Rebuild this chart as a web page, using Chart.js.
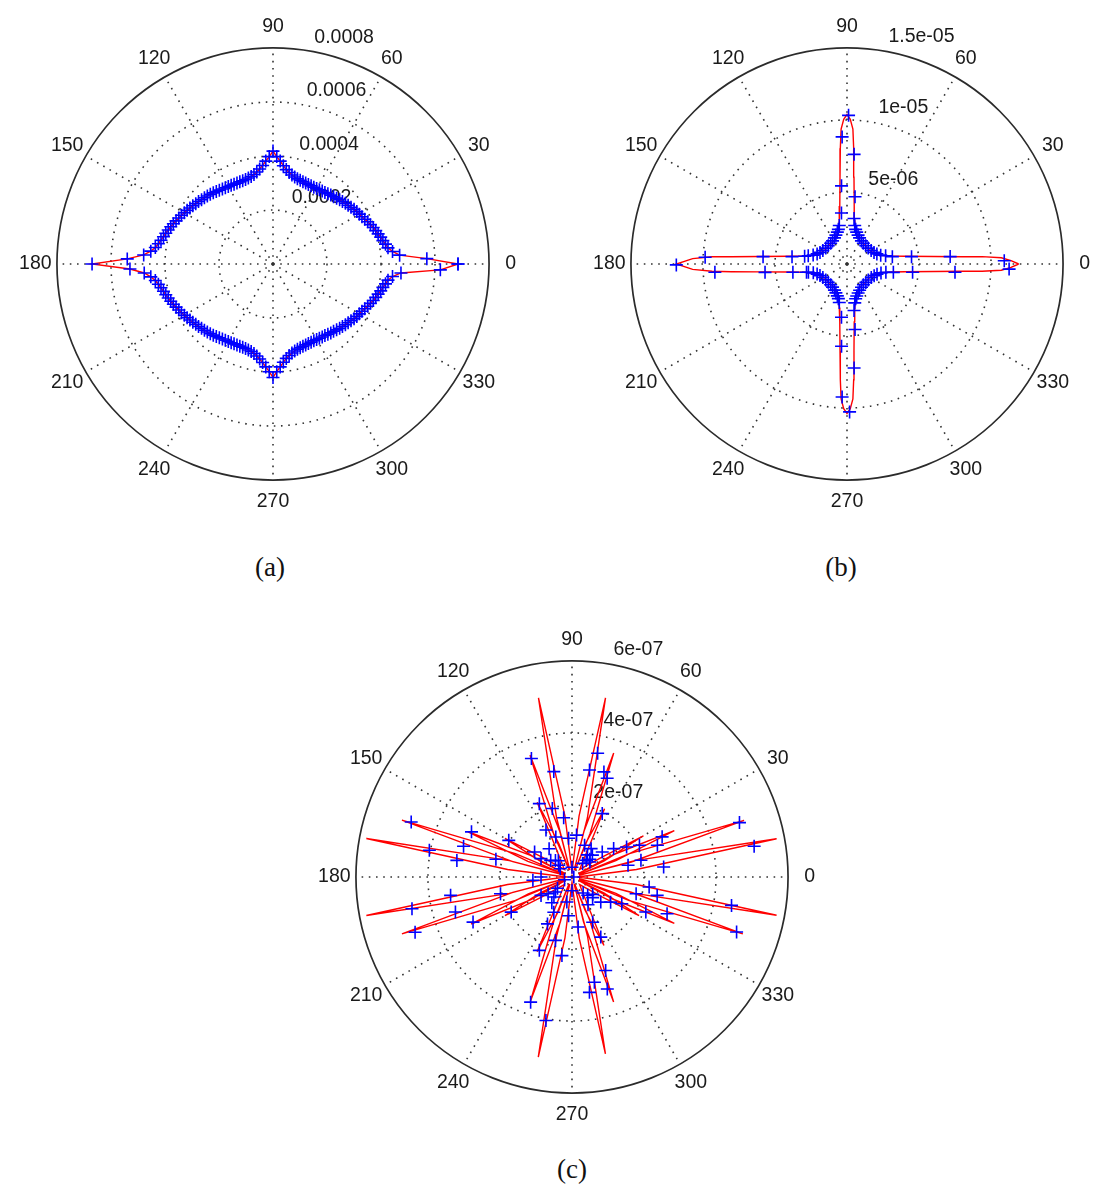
<!DOCTYPE html>
<html>

<head>
    <meta charset="utf-8">
    <title>Polar plots</title>
    <script src="https://cdn.jsdelivr.net/npm/chart.js"></script>
    <style>
        body {
            margin: 0;
            background: #fff;
            width: 1100px;
            height: 1189px;
            position: relative;
            overflow: hidden;
        }

        .plot {
            position: absolute;
            width: 520px;
            height: 520px;
        }

        .cap {
            position: absolute;
            font-family: "Liberation Serif", "Times New Roman", serif;
            font-size: 27px;
            color: #111;
            transform: translate(-50%, -50%);
        }
    </style>
</head>

<body>
    <div class="plot" style="left:13px;top:4px"><canvas id="pa" width="520" height="520"></canvas></div>
    <div class="plot" style="left:587px;top:4px"><canvas id="pb" width="520" height="520"></canvas></div>
    <div class="plot" style="left:312px;top:617px"><canvas id="pc" width="520" height="520"></canvas></div>
    <div class="cap" style="left:270px;top:567px">(a)</div>
    <div class="cap" style="left:841px;top:567px">(b)</div>
    <div class="cap" style="left:572px;top:1169px">(c)</div>

    <script>
        // angle ticks (deg) shared by all three plots
        const ANGLE_TICKS = [0, 30, 60, 90, 120, 150, 180, 210, 240, 270, 300, 330];

        // ---- (a) : radius in units of 1e-4 ----
        const A_UNIT = 1e-4;
        const A_RTICKS = [0.0002, 0.0004, 0.0006, 0.0008];
        const A_RLABELS = ['0.0002', '0.0004', '0.0006', '0.0008'];
        const A_THETA = [
            0, 2, 4, 6, 8, 10, 12, 14, 16, 18, 20, 22, 24, 26, 28, 30, 32, 34, 36, 38, 40, 42, 44, 46, 48, 50,
            52, 54, 56, 58, 60, 62, 64, 66, 68, 70, 72, 74, 76, 78, 80, 82, 84, 86, 88, 90,
            92, 94, 96, 98, 100, 102, 104, 106, 108, 110, 112, 114, 116, 118, 120, 122, 124, 126, 128, 130,
            132, 134, 136, 138, 140, 142, 144, 146, 148, 150, 152, 154, 156, 158, 160, 162, 164, 166, 168, 170,
            172, 174, 176, 178, 180,
            182, 184, 186, 188, 190, 192, 194, 196, 198, 200, 202, 204, 206, 208, 210, 212, 214, 216, 218, 220,
            222, 224, 226, 228, 230, 232, 234, 236, 238, 240, 242, 244, 246, 248, 250, 252, 254, 256, 258, 260,
            262, 264, 266, 268, 270,
            272, 274, 276, 278, 280, 282, 284, 286, 288, 290, 292, 294, 296, 298, 300, 302, 304, 306, 308, 310,
            312, 314, 316, 318, 320, 322, 324, 326, 328, 330, 332, 334, 336, 338, 340, 342, 344, 346, 348, 350,
            352, 354, 356, 358, 360
        ];
        const A_R = [
            6.85, 5.70, 4.70, 4.45, 4.30, 4.23, 4.16, 4.11, 4.05, 4.00, 3.95, 3.89, 3.84, 3.78, 3.73, 3.69,
            3.66, 3.62, 3.57, 3.53, 3.50, 3.46, 3.43, 3.39, 3.35, 3.33, 3.30, 3.27, 3.26, 3.24, 3.23, 3.22,
            3.22, 3.22, 3.23, 3.24, 3.26, 3.28, 3.32, 3.37, 3.44, 3.53, 3.66, 3.82, 3.98, 4.18,
            3.98, 3.82, 3.67, 3.55, 3.46, 3.39, 3.34, 3.31, 3.29, 3.28, 3.28, 3.28, 3.29, 3.30, 3.31, 3.33,
            3.35, 3.38, 3.41, 3.44, 3.47, 3.50, 3.53, 3.56, 3.60, 3.63, 3.67, 3.71, 3.75, 3.79, 3.84, 3.88,
            3.93, 3.98, 4.03, 4.08, 4.13, 4.18, 4.24, 4.31, 4.40, 4.55, 4.80, 5.40, 6.70,
            5.30, 4.78, 4.55, 4.40, 4.31, 4.24, 4.18, 4.13, 4.08, 4.03, 3.98, 3.93, 3.88, 3.84, 3.79, 3.75,
            3.71, 3.67, 3.63, 3.60, 3.56, 3.53, 3.50, 3.47, 3.44, 3.41, 3.38, 3.35, 3.33, 3.31, 3.30, 3.29,
            3.28, 3.28, 3.28, 3.29, 3.31, 3.34, 3.39, 3.46, 3.55, 3.67, 3.82, 3.99, 4.20,
            3.99, 3.82, 3.66, 3.53, 3.44, 3.37, 3.32, 3.28, 3.26, 3.24, 3.23, 3.22, 3.22, 3.22, 3.23, 3.24,
            3.26, 3.27, 3.30, 3.33, 3.35, 3.39, 3.43, 3.46, 3.50, 3.53, 3.57, 3.62, 3.66, 3.69, 3.73, 3.78,
            3.84, 3.89, 3.95, 4.00, 4.05, 4.11, 4.16, 4.23, 4.30, 4.45, 4.75, 6.20, 6.85
        ];

        // ---- (b) : radius in units of 1e-6 ----
        const B_UNIT = 1e-6;
        const B_RTICKS = [5e-6, 1e-5, 1.5e-5];
        const B_RLABELS = ['5e-06', '1e-05', '1.5e-05'];
        const B_LINE_THETA = [
            0, 1.18, 2.33, 3.11, 3.62, 4.95, 7.59, 10.45, 14.04, 19.3, 27.5, 36.7, 45, 53.3, 62.5, 70.7, 76,
            79.9, 82.9, 85.4, 86.7, 87.5, 88.7, 90,
            91.3, 92.5, 93.3, 94.6, 97.1, 100.1, 104, 109.3, 117.5, 126.7, 135, 143.3, 152.5, 160.7, 166,
            169.55, 172.4, 175.05, 176.4, 176.9, 178, 180,
            182, 183.1, 183.8, 185.2, 187.9, 190.8, 194.5, 200, 208, 217, 225, 233.3, 242.5, 250.7, 256,
            259.9, 262.9, 265.4, 266.7, 267.5, 268.7, 270,
            271.3, 272.5, 273.3, 274.6, 277.1, 280.1, 284, 289.3, 297.5, 306.7, 315, 323.3, 332.5, 340.7, 346,
            349.55, 352.4, 355.05, 356.4, 356.9, 357.7, 358.8, 360
        ];
        const B_LINE_R = [
            11.92, 11.39, 10.72, 9.39, 8.05, 6.05, 4.05, 3.07, 2.48, 2.13, 1.89, 1.79, 1.80, 1.79, 1.89, 2.13, 2.48,
            3.06, 4.05, 6.05, 8.05, 9.38, 10.05, 10.38,
            10.05, 9.38, 8.05, 6.05, 4.05, 3.06, 2.48, 2.13, 1.89, 1.79, 1.80, 1.79, 1.89, 2.13, 2.48,
            3.07, 4.05, 6.05, 8.05, 9.39, 10.72, 11.85,
            10.72, 9.39, 8.05, 6.05, 4.05, 3.07, 2.48, 2.13, 1.89, 1.79, 1.80, 1.79, 1.89, 2.13, 2.48,
            3.06, 4.05, 6.05, 8.05, 9.38, 10.05, 10.38,
            10.05, 9.38, 8.05, 6.05, 4.05, 3.06, 2.48, 2.13, 1.89, 1.79, 1.80, 1.79, 1.89, 2.13, 2.48,
            3.07, 4.05, 6.05, 8.05, 9.39, 10.72, 11.39, 11.92
        ];
        const B_MARK_THETA = [
            89.4, 92.2, 86.3, 94, 83.2, 96.2, 81.2,
            78.7, 76, 73.1, 69, 64.3, 58, 51.7, 44.3, 36.9, 29.2, 23.2, 18.7, 14.7, 12,
            9.2, 6.5, 4.1, 349.8, 352.8, 355.6, 1.2, 358.2,
            348, 345.3, 341.3, 336.8, 330.8, 323.1, 315.7, 308.3, 302, 295.7, 291, 286.9, 284, 281.3,
            271, 267.9, 273.9, 266.2, 277, 264.1, 278.6,
            258.7, 256, 253.1, 249, 244.3, 238, 231.7, 224.3, 216.9, 209.2, 203.2, 198.7, 194.7, 192,
            180.3, 177.3, 183.6, 175, 185.8, 172.4, 188.7, 169.7, 191.6,
            168, 165.3, 161.3, 156.8, 150.8, 143.1, 135.7, 128.3, 122, 115.7, 111, 106.9, 104, 101.3
        ];
        const B_MARK_R = [
            10.32, 8.83, 7.63, 5.44, 4.70, 3.56, 3.20,
            2.73, 2.48, 2.31, 2.15, 2.01, 1.89, 1.83, 1.82, 1.84, 1.92, 2.04, 2.19, 2.42, 2.74,
            3.19, 4.51, 7.18, 3.27, 4.59, 7.52, 10.92, 11.26,
            2.76, 2.44, 2.20, 2.05, 1.93, 1.85, 1.83, 1.84, 1.90, 2.02, 2.16, 2.32, 2.49, 2.75,
            10.27, 9.24, 7.24, 5.72, 4.58, 3.72, 3.27,
            2.73, 2.48, 2.31, 2.15, 2.01, 1.89, 1.83, 1.82, 1.84, 1.92, 2.04, 2.19, 2.42, 2.74,
            11.85, 9.86, 9.19, 5.85, 5.72, 3.85, 3.80, 2.99, 2.87,
            2.75, 2.43, 2.19, 2.04, 1.92, 1.84, 1.82, 1.83, 1.89, 2.01, 2.15, 2.31, 2.48, 2.73
        ];

        // ---- (c) : radius in units of 1e-7 ----
        // each petal: base, tip, base, then a point near the hub
        const C_UNIT = 1e-7;
        const C_RTICKS = [2e-7, 4e-7, 6e-7];
        const C_RLABELS = ['2e-07', '4e-07', '6e-07'];
        const C_LINE_THETA = [
            0, 6.6, 10.6, 14.6, 13, 14.2, 18.2, 22.2, 20, 20.4, 24.4, 28.4, 27, 26.5, 30, 33.5, 45,
            61, 64.5, 68, 66, 67.4, 71.4, 75.4, 73, 75.4, 79.4, 83.4, 90,
            96.6, 100.6, 104.6, 107, 105, 109, 113, 112, 111.5, 115, 118.5, 135,
            146.5, 150, 153.5, 153, 152.5, 156.5, 160.5, 160, 157.5, 161.5, 165.5, 166, 165.4, 169.4, 173.4, 180,
            186.6, 190.6, 194.6, 194, 194.5, 198.5, 202.5, 200, 201, 205, 209, 207, 206.5, 210, 213.5, 225,
            241.5, 245, 248.5, 247, 247.5, 251.5, 255.5, 253, 255.4, 259.4, 263.4, 270,
            276.7, 280.7, 284.7, 287, 284.4, 288.4, 292.4, 291, 291.5, 295, 298.5, 315,
            326.5, 330, 333.5, 333, 331.6, 335.6, 339.6, 339, 337.6, 341.6, 345.6, 346, 345.4, 349.4, 353.4, 360
        ];
        const C_LINE_R = [
            0.15, 1.8, 5.78, 1.8, 0.2, 1.7, 5.03, 1.7, 0.2, 1.3, 3.12, 1.3, 0.2, 1.0, 2.29, 1.0, 0.3,
            1.0, 2.10, 1.0, 0.2, 1.3, 3.63, 1.3, 0.2, 1.7, 5.06, 1.7, 0.15,
            1.7, 5.06, 1.7, 0.2, 1.3, 3.58, 1.3, 0.2, 1.0, 2.29, 1.0, 0.3,
            1.0, 2.15, 1.0, 0.2, 1.3, 3.15, 1.3, 0.2, 1.7, 4.98, 1.7, 0.2, 1.8, 5.81, 1.8, 0.15,
            1.8, 5.81, 1.8, 0.2, 1.7, 4.98, 1.7, 0.2, 1.3, 3.09, 1.3, 0.2, 1.0, 2.15, 1.0, 0.3,
            1.0, 2.29, 1.0, 0.2, 1.3, 3.63, 1.3, 0.2, 1.7, 5.09, 1.7, 0.15,
            1.7, 5.00, 1.7, 0.2, 1.3, 3.66, 1.3, 0.2, 1.0, 2.10, 1.0, 0.3,
            1.0, 2.15, 1.0, 0.2, 1.3, 3.12, 1.3, 0.2, 1.7, 5.00, 1.7, 0.2, 1.8, 5.78, 1.8, 0.15
        ];
        const C_MARK_THETA = [
            108.9, 99.8, 114, 106, 98, 119, 112, 129, 83.8, 78.3, 80.7, 73.1, 70.4, 64.5, 68.4, 56,
            251.7, 259.7, 246, 255.4, 262.7, 242.4, 242.7, 258.4, 277, 294.6, 295.6, 289.8, 282, 278.6, 287.5,
            18, 9.6, 24, 20.4, 6.2, 13.6, 11.8, 25.2, 28.8, 34.3, 39.6,
            349.9, 341.5, 338.9, 347.8, 352.6, 334.6, 345.4, 331.7, 326.9, 318.9,
            161.1, 169.4, 171.8, 164.2, 155.8, 166.9, 149.9, 146.2, 149.3,
            191.2, 199.4, 188.6, 196.7, 204.5, 193.2, 210, 184.8, 210.7,
            49.5, 45, 52, 40, 55, 47, 138.5, 135, 142, 130, 145, 222.4, 228, 218, 232, 215,
            310.6, 315, 305, 320, 300,
            0, 90, 200, 180, 270, 95, 265
        ];
        const C_MARK_R = [
            3.48, 2.97, 2.23, 1.98, 1.66, 1.49, 1.20, 1.01, 1.17, 3.51, 3.01, 3.05, 2.91, 1.95, 0.95, 0.95,
            3.66, 4.05, 2.23, 1.82, 2.20, 1.47, 1.10, 0.71, 1.40, 1.38, 1.85, 2.76, 2.99, 3.24, 3.26,
            4.89, 5.13, 2.74, 2.53, 2.56, 1.97, 1.59, 2.07, 1.73, 1.40, 1.09,
            4.50, 4.82, 2.83, 2.42, 2.16, 2.27, 1.84, 1.57, 1.28, 1.06,
            4.72, 4.03, 3.23, 3.13, 3.06, 2.17, 2.03, 1.25, 1.00,
            4.53, 4.62, 3.41, 3.38, 3.02, 2.04, 1.95, 1.09, 1.00,
            0.61, 0.70, 0.48, 0.65, 0.75, 0.83, 0.49, 0.65, 0.75, 0.59, 0.40, 0.62, 0.75, 0.51, 0.91, 0.81,
            0.67, 0.81, 0.54, 0.75, 0.89,
            0.05, 0.27, 0.22, 0.86, 0.38, 1.08, 1.08
        ];

        const FONT = '19.5px "Liberation Sans", Arial, sans-serif';
        const deg = Math.PI / 180;

        function toPoints(th, r, unit) {
            return th.map((t, i) => ({ x: r[i] * unit * Math.cos(t * deg), y: r[i] * unit * Math.sin(t * deg) }));
        }

        // matlab style polar grid: dotted spokes + rings, solid outer circle, labels
        const polarGrid = {
            id: 'polarGrid',
            beforeDatasetsDraw(chart, args, opts) {
                const ctx = chart.ctx;
                const xs = chart.scales.x, ys = chart.scales.y;
                const cx = xs.getPixelForValue(0), cy = ys.getPixelForValue(0);
                const R = xs.getPixelForValue(opts.rmax) - cx;
                ctx.save();
                ctx.strokeStyle = '#333';
                ctx.lineWidth = 1.6;
                ctx.setLineDash([1.6, 5.6]);
                ANGLE_TICKS.forEach(a => {
                    ctx.beginPath();
                    ctx.moveTo(cx, cy);
                    ctx.lineTo(cx + R * Math.cos(a * deg), cy - R * Math.sin(a * deg));
                    ctx.stroke();
                });
                opts.ticks.forEach(t => {
                    if (t >= opts.rmax) return;
                    const rr = xs.getPixelForValue(t) - cx;
                    ctx.beginPath();
                    ctx.arc(cx, cy, rr, 0, Math.PI * 2);
                    ctx.stroke();
                });
                ctx.setLineDash([]);
                ctx.strokeStyle = '#2b2b2b';
                ctx.lineWidth = 1.7;
                ctx.beginPath();
                ctx.arc(cx, cy, R, 0, Math.PI * 2);
                ctx.stroke();

                ctx.fillStyle = '#1a1a1a';
                ctx.font = FONT;
                ctx.textAlign = 'center';
                ctx.textBaseline = 'middle';
                ANGLE_TICKS.forEach(a => {
                    ctx.fillText(String(a), cx + 1.1 * R * Math.cos(a * deg), cy - 1.1 * R * Math.sin(a * deg));
                });
                const rinc = opts.ticks[0];
                ctx.textAlign = 'left';
                ctx.textBaseline = 'bottom';
                opts.ticks.forEach((t, i) => {
                    const rr = (xs.getPixelForValue(t + rinc / 20) - cx);
                    ctx.fillText('  ' + opts.labels[i], cx + rr * Math.cos(82 * deg), cy - rr * Math.sin(82 * deg));
                });
                ctx.restore();
            }
        };

        function makePolar(id, c) {
            const M = c.rmax * 260 / 223;
            new Chart(document.getElementById(id), {
                type: 'scatter',
                data: {
                    datasets: [
                        {
                            data: toPoints(c.markTheta, c.markR, c.unit),
                            showLine: false,
                            pointStyle: 'cross',
                            pointRadius: 6.5,
                            pointBorderColor: '#0000ff',
                            pointBorderWidth: 1.6,
                            borderColor: '#0000ff'
                        },
                        {
                            data: toPoints(c.lineTheta, c.lineR, c.unit),
                            showLine: true,
                            pointRadius: 0,
                            borderColor: '#ff0000',
                            borderWidth: 1.4,
                            tension: 0
                        }
                    ]
                },
                options: {
                    responsive: false,
                    animation: false,
                    devicePixelRatio: 1,
                    events: [],
                    layout: { padding: 0 },
                    scales: {
                        x: { type: 'linear', min: -M, max: M, display: false },
                        y: { type: 'linear', min: -M, max: M, display: false }
                    },
                    plugins: {
                        legend: { display: false },
                        tooltip: { enabled: false },
                        polarGrid: { rmax: c.rmax, ticks: c.rticks, labels: c.rlabels }
                    }
                },
                plugins: [polarGrid]
            });
        }

        makePolar('pa', {
            rmax: 0.0008, rticks: A_RTICKS, rlabels: A_RLABELS, unit: A_UNIT,
            lineTheta: A_THETA, lineR: A_R, markTheta: A_THETA, markR: A_R
        });
        makePolar('pb', {
            rmax: 1.5e-5, rticks: B_RTICKS, rlabels: B_RLABELS, unit: B_UNIT,
            lineTheta: B_LINE_THETA, lineR: B_LINE_R, markTheta: B_MARK_THETA, markR: B_MARK_R
        });
        makePolar('pc', {
            rmax: 6e-7, rticks: C_RTICKS, rlabels: C_RLABELS, unit: C_UNIT,
            lineTheta: C_LINE_THETA, lineR: C_LINE_R, markTheta: C_MARK_THETA, markR: C_MARK_R
        });
    </script>
</body>

</html>
